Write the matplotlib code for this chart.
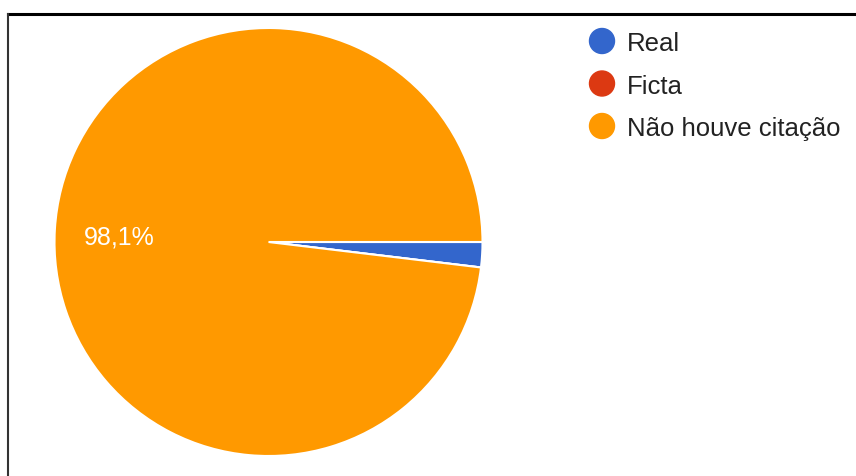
import matplotlib.pyplot as plt
from matplotlib.patches import Circle
from matplotlib.lines import Line2D

# Respostas sobre o tipo de citação
categorias = ['Real', 'Ficta', 'Não houve citação']
percentuais = [1.9, 0.0, 98.1]
cores = ['#3366cc', '#dc3912', '#ff9900']

W, H = 856, 477
fig = plt.figure(figsize=(W / 100, H / 100), dpi=100)
ax = fig.add_axes([0, 0, 1, 1])

def rotulo(pct):
    # só o setor grande recebe rótulo, com vírgula decimal
    return f'{pct:.1f}%'.replace('.', ',') if pct > 5 else ''

_, _, autotexts = ax.pie(percentuais, colors=cores, center=(268.5, H - 243), radius=214,
                         startangle=0, counterclock=False, autopct=rotulo, pctdistance=0.70,
                         wedgeprops=dict(edgecolor='white', linewidth=1.5),
                         textprops=dict(color='white', fontsize=18, family='Liberation Sans'))
for t in autotexts:
    x, y = t.get_position()
    t.set_position((x, y - 3))

# legenda à direita
for i, (nome, cor) in enumerate(zip(categorias, cores)):
    y = H - (42 + 42.5 * i)
    ax.add_patch(Circle((602, y), 12.5, color=cor))
    ax.text(627, y - 2, nome, fontsize=18.5, family='Liberation Sans',
            color='#222222', va='center', ha='left')

ax.set_xlim(0, W)
ax.set_ylim(0, H)
ax.set_aspect('equal')
ax.axis('off')

# moldura (topo e lado esquerdo)
fig.add_artist(Line2D([8 / W, 1], [1 - 15 / H, 1 - 15 / H], color='black', lw=2.2))
fig.add_artist(Line2D([8 / W, 8 / W], [0, 1 - 15 / H], color='#333333', lw=1.5))

fig.savefig('out.png', dpi=100)
